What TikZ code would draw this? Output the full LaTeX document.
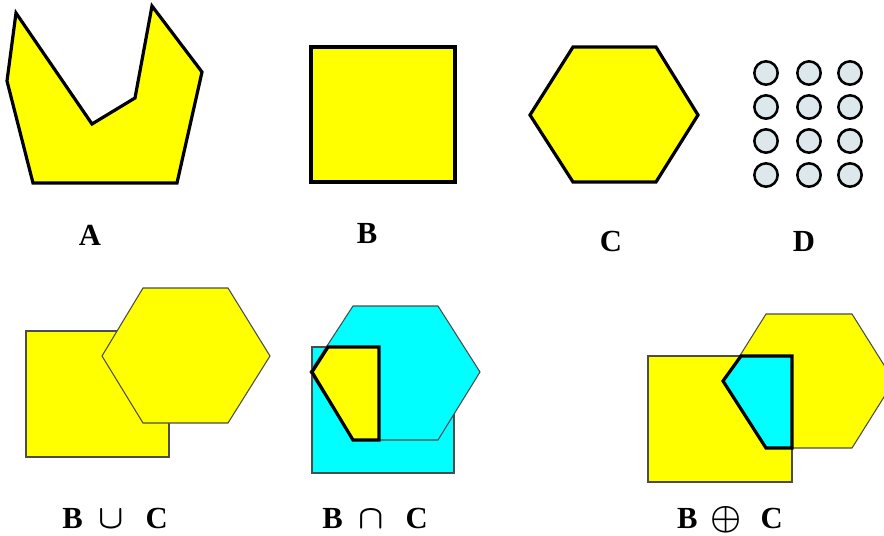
\documentclass[tikz,border=0pt]{standalone}
\usepackage{fontspec}
\usepackage{graphicx}
\setmainfont{Liberation Serif}
\definecolor{yel}{RGB}{255,255,0}
\definecolor{cya}{RGB}{0,255,255}
\definecolor{dotfill}{RGB}{221,232,236}
\begin{document}
\begin{tikzpicture}[x=0.75pt,y=-0.75pt,
  thickshape/.style={fill=yel,draw=black,line width=2.4pt,line join=miter},
  thinshape/.style={draw=black!70,line width=0.8pt},
  dot/.style={circle,draw=black,fill=dotfill,line width=1.9pt,minimum size=17.5pt,inner sep=0pt},
  lbl/.style={font=\fontsize{23}{26}\selectfont\bfseries\mathversion{bold},anchor=base,inner sep=0pt}]
\useasboundingbox (0,0) rectangle (884,535);
% A
\draw[thickshape] (16,13) -- (7,81) -- (33,183) -- (177,183) -- (202,72) -- (152,6) -- (135,98) -- (92,124) -- cycle;
% B
\draw[thickshape] (311,47) rectangle (455,182);
% C
\draw[thickshape] (530,115) -- (573,47) -- (656,47) -- (698,115) -- (656,182) -- (573,182) -- cycle;
% D
\foreach \i/\x in {1/766,2/809,3/850}{
  \foreach \j/\y in {1/73,2/107,3/141,4/175}{
    \node[dot] (d\i\j) at (\x,\y) {};
  }
}
\node[lbl] (la) at (90,245) {A};
\node[lbl] (lb) at (367,243) {B};
\node[lbl] (lc) at (611,251) {C};
\node[lbl] (ld) at (804,251) {D};
% union
\draw[thinshape,fill=yel] (26,331) rectangle (169,457);
\draw[thinshape,fill=yel] (102,356) -- (143,288) -- (228,288) -- (270,356) -- (228,423) -- (143,423) -- cycle;
% intersection
\draw[thinshape,fill=cya] (312,347) rectangle (454,473);
\draw[thinshape,fill=cya] (310,372) -- (353,306) -- (438,306) -- (480,372) -- (438,440) -- (353,440) -- cycle;
\draw[thickshape] (328,347) -- (379,347) -- (379,440) -- (353,440) -- (312,372) -- cycle;
% xor
\draw[thinshape,fill=yel] (724,381) -- (766,314) -- (852,314) -- (894,381) -- (852,448) -- (766,448) -- cycle;
\draw[thinshape,fill=yel] (648,356) rectangle (792,482);
\draw[thickshape,fill=cya] (741,356) -- (792,356) -- (792,448) -- (766,448) -- (723,381) -- cycle;
% labels
\node[lbl] (lu) at (115,528) {B\hspace{12pt}\scalebox{1.0}{$\cup$}\hspace{16pt}C};
\node[lbl] (li) at (375,528) {B\hspace{12pt}\scalebox{1.0}{$\cap$}\hspace{16pt}C};
\node[lbl] (lx) at (730,528) {B\hspace{10pt}\scalebox{1.05}{$\oplus$}\hspace{14pt}C};
\end{tikzpicture}
\end{document}
